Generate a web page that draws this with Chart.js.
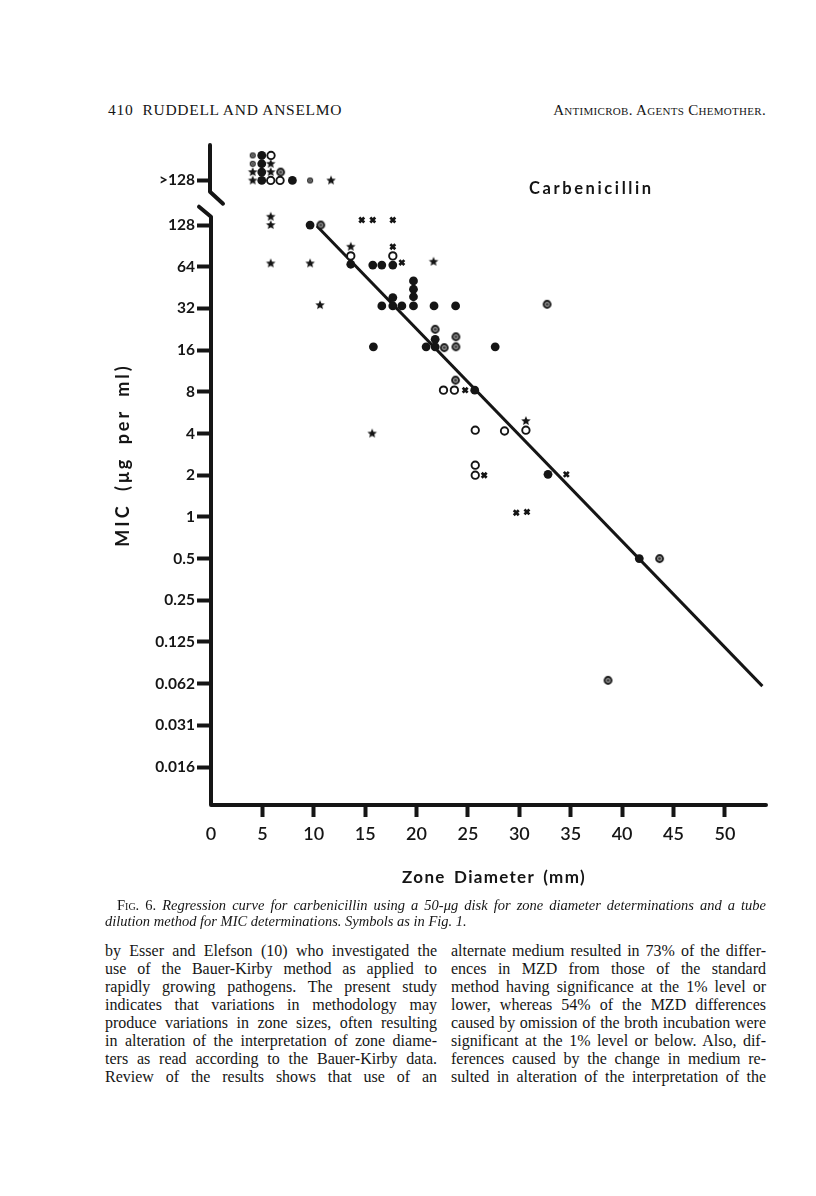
<!DOCTYPE html>
<html lang="en">
<head>
<meta charset="UTF-8">
<title>Fig. 6 - Carbenicillin regression</title>
<script src="https://cdn.jsdelivr.net/npm/chart.js"></script>
<style>
    body {
        margin: 0;
        width: 816px;
        height: 1196px;
        background: #fff;
        position: relative;
        overflow: hidden;
        color: #151515;
        font-family: "Liberation Serif", serif;
    }
    #chartBox {
        position: absolute;
        left: 0;
        top: 0;
        width: 816px;
        height: 900px;
    }
    .abs { position: absolute; white-space: nowrap; }
    .head { top: 101px; font-size: 15.5px; line-height: 18px; letter-spacing: 0.7px; }
    .label {
        font-family: Lato, "DejaVu Sans", sans-serif;
        font-weight: bold;
    }
    .cap { left: 105px; width: 661px; font-size: 14.5px; line-height: 16px; font-style: italic; }
    .line {
        font-size: 16px;
        line-height: 18px;
        text-align: justify;
        text-align-last: justify;
        white-space: nowrap;
    }
    .sc { font-style: normal; font-variant: small-caps; }
</style>
</head>
<body>
<div class="abs head" style="left:108px;">410&nbsp;&nbsp;RUDDELL AND ANSELMO</div>
<div class="abs head" style="right:50px; font-variant: small-caps; font-size:15px; letter-spacing:0.3px;">Antimicrob. Agents Chemother.</div>

<div id="chartBox"><canvas id="fig" width="816" height="900"></canvas></div>

<div class="abs label" style="left:529px; top:179px; font-size:16.5px; line-height:18px; letter-spacing:2.6px;">Carbenicillin</div>
<div class="abs label" style="left:2px; top:445px; width:240px; height:20px; font-size:18px; line-height:20px; text-align:center; letter-spacing:3px; word-spacing:5px; transform:rotate(-90deg);">MIC (μg per ml)</div>
<div class="abs label" style="left:394px; top:867px; width:200px; font-size:17px; line-height:20px; text-align:center; letter-spacing:1.3px; word-spacing:3px;">Zone Diameter (mm)</div>

<div class="abs cap line" style="top:897px; left:117px; width:649px; font-size:14.5px; line-height:16px;"><span class="sc">Fig. 6.</span> Regression curve for carbenicillin using a 50-μg disk for zone diameter determinations and a tube</div>
<div class="abs cap" style="top:913px;">dilution method for MIC determinations. Symbols as in Fig. 1.</div>

<div id="colLeft"></div>
<div id="colRight"></div>

<script>
    // y axis: MIC on a doubling scale, stored as log2 positions; ">128" sits above the break
    const yTickValues = [-6, -5, -4, -3, -2, -1, 0, 1, 2, 3, 4, 5, 6, 7, 8.07];
    const yTickLabels = ['0.016', '0.031', '0.062', '0.125', '0.25', '0.5', '1', '2', '4', '8', '16', '32', '64', '128', '>128'];
    const xTickValues = [0, 5, 10, 15, 20, 25, 30, 35, 40, 45, 50];

    // each point: zone diameter (mm), MIC, and stack lift (how many symbol heights it is raised above its MIC line)
    const filledZone = [4.94, 7.92, 4.94, 4.94, 4.94, 9.64, 13.6, 15.74, 16.62, 17.69, 16.62, 17.69, 17.69, 18.57, 19.7, 19.7, 19.7, 19.7, 21.7, 23.8, 15.8, 20.93, 21.81, 21.81, 27.65, 25.66, 32.79, 41.67];
    const filledMic = ['>128', '>128', '>128', '>128', '>128', '128', '64', '64', '64', '64', '32', '32', '32', '32', '32', '32', '32', '32', '32', '32', '16', '16', '16', '16', '16', '8', '2', '0.5'];
    const filledLift = [0, 0, 1, 2, 3, 0, 0.3, 0.2, 0.2, 0.2, 0.3, 0.3, 1.3, 0.3, 0.3, 1.4, 2.3, 3.3, 0.3, 0.3, 0.4, 0.4, 0.4, 1.3, 0.4, 0.2, 0.1, 0];

    const openZone = [5.81, 6.72, 5.84, 13.6, 17.69, 22.62, 23.68, 25.71, 28.56, 30.64, 25.71, 25.71];
    const openMic = ['>128', '>128', '>128', '64', '64', '8', '8', '4', '4', '4', '2', '2'];
    const openLift = [0, 0, 3, 1.3, 1.3, 0.2, 0.2, 0.4, 0.3, 0.4, 0, 1.2];

    const starZone = [4.06, 11.68, 4.06, 5.81, 5.81, 5.81, 5.81, 5.81, 9.64, 13.6, 21.65, 10.61, 15.68, 30.64];
    const starMic = ['>128', '>128', '>128', '>128', '>128', '128', '128', '64', '64', '64', '64', '32', '4', '4'];
    const starLift = [0, 0, 1, 1, 2, 0, 1, 0.4, 0.4, 2.4, 0.6, 0.4, 0, 1.5];

    const crossZone = [14.67, 15.74, 17.69, 17.69, 18.57, 24.73, 26.58, 34.57, 29.7, 30.74];
    const crossMic = ['128', '128', '128', '64', '64', '8', '2', '2', '1', '1'];
    const crossLift = [0.6, 0.6, 0.6, 2.4, 0.5, 0.2, 0, 0.1, 0.5, 0.6];

    const targetZone = [6.78, 10.68, 32.7, 21.81, 22.69, 23.83, 23.83, 23.79, 43.65, 38.63];
    const targetMic = ['>128', '128', '32', '16', '16', '16', '16', '8', '0.5', '0.062'];
    const targetLift = [1, 0, 0.5, 2.5, 0.3, 0.4, 1.6, 1.4, 0, 0.4];

    const smallZone = [4.06, 4.06, 9.64];
    const smallMic = ['>128', '>128', '>128'];
    const smallLift = [2, 3, 0];

    // regression line end points
    const lineZone = [10.3, 53.65];
    const lineMic = [126, 0.06];

    const LIFT = 0.2; // log2 units per stacked symbol

    function micPos(label) {
        return yTickValues[yTickLabels.indexOf(label)];
    }

    function toPoints(zones, mics, lifts) {
        return zones.map((z, i) => ({ x: z, y: micPos(mics[i]) + lifts[i] * LIFT }));
    }

    function starImage(r) {
        const c = document.createElement('canvas');
        const s = Math.ceil(r * 2 + 2);
        c.width = c.height = s;
        const g = c.getContext('2d');
        g.fillStyle = '#151515';
        g.beginPath();
        for (let i = 0; i < 10; i++) {
            const rad = i % 2 ? r * 0.45 : r;
            const a = -Math.PI / 2 + i * Math.PI / 5;
            g.lineTo(s / 2 + rad * Math.cos(a), s / 2 + rad * Math.sin(a));
        }
        g.closePath();
        g.fill();
        return c;
    }

    function targetImage(r, fill, ring) {
        const c = document.createElement('canvas');
        const s = Math.ceil(r * 2 + 2);
        c.width = c.height = s;
        const g = c.getContext('2d');
        g.beginPath();
        g.arc(s / 2, s / 2, r - ring / 2, 0, Math.PI * 2);
        g.fillStyle = fill;
        g.fill();
        g.lineWidth = ring;
        g.strokeStyle = '#1a1a1a';
        g.stroke();
        g.beginPath();
        g.arc(s / 2, s / 2, r * 0.3, 0, Math.PI * 2);
        g.fillStyle = '#333';
        g.fill();
        return c;
    }

    const brokenAxis = {
        id: 'brokenAxis',
        afterDraw(chart) {
            const { ctx, chartArea: a, scales: { y } } = chart;
            const yUpper = y.getPixelForValue(7.8);
            const yLower = y.getPixelForValue(7.2);
            ctx.save();
            ctx.strokeStyle = '#151515';
            ctx.lineWidth = 4;
            ctx.lineJoin = 'round';
            ctx.lineCap = 'round';
            ctx.beginPath();
            ctx.moveTo(a.left - 1, a.top);
            ctx.lineTo(a.left - 1, yUpper);
            ctx.lineTo(a.left + 12, yUpper + 12);
            ctx.stroke();
            ctx.beginPath();
            ctx.moveTo(a.left - 12, yLower - 10);
            ctx.lineTo(a.left, yLower);
            ctx.lineTo(a.left, a.bottom);
            ctx.lineTo(a.right, a.bottom);
            ctx.stroke();
            ctx.restore();
        }
    };

    const symbolSet = (data, extra) => Object.assign({
        type: 'scatter',
        data: data,
        order: 1,
        clip: false
    }, extra);

    new Chart(document.getElementById('fig'), {
        type: 'scatter',
        data: {
            datasets: [
                {
                    type: 'line',
                    data: lineZone.map((z, i) => ({ x: z, y: Math.log2(lineMic[i]) })),
                    borderColor: '#151515',
                    borderWidth: 3,
                    pointRadius: 0,
                    fill: false,
                    order: 5
                },
                symbolSet(toPoints(filledZone, filledMic, filledLift), {
                    pointStyle: 'circle', pointRadius: 4.4, backgroundColor: '#151515', borderColor: '#151515', borderWidth: 0
                }),
                symbolSet(toPoints(openZone, openMic, openLift), {
                    pointStyle: 'circle', pointRadius: 3.7, backgroundColor: '#fff', borderColor: '#151515', borderWidth: 1.9
                }),
                symbolSet(toPoints(starZone, starMic, starLift), {
                    pointStyle: starImage(5)
                }),
                symbolSet(toPoints(crossZone, crossMic, crossLift), {
                    pointStyle: 'crossRot', pointRadius: 3.5, borderColor: '#151515', borderWidth: 2.7
                }),
                symbolSet(toPoints(targetZone, targetMic, targetLift), {
                    pointStyle: targetImage(4.4, '#9a9a9a', 1.9)
                }),
                symbolSet(toPoints(smallZone, smallMic, smallLift), {
                    pointStyle: targetImage(3, '#aaa', 1.2)
                })
            ]
        },
        options: {
            responsive: false,
            animation: false,
            devicePixelRatio: 1,
            layout: { padding: { left: 0, top: 145, right: 50, bottom: 0 } },
            plugins: { legend: { display: false }, tooltip: { enabled: false } },
            scales: {
                x: {
                    type: 'linear',
                    min: 0,
                    max: 54,
                    afterFit: s => { s.height = 95; },
                    afterBuildTicks: s => { s.ticks = xTickValues.map(v => ({ value: v })); },
                    border: { display: false },
                    grid: {
                        drawOnChartArea: false,
                        drawTicks: true,
                        tickLength: 12,
                        tickWidth: 4,
                        tickColor: c => (c.tick && c.tick.value === 0 ? 'rgba(0,0,0,0)' : '#151515')
                    },
                    ticks: {
                        padding: 6,
                        color: '#151515',
                        maxRotation: 0,
                        font: { family: 'Lato', size: 18, weight: '600' },
                        callback: v => String(v)
                    }
                },
                y: {
                    type: 'linear',
                    min: -6.91,
                    max: 8.92,
                    afterFit: s => { s.width = 211; },
                    afterBuildTicks: s => { s.ticks = yTickValues.map(v => ({ value: v })); },
                    border: { display: false },
                    grid: {
                        drawOnChartArea: false,
                        drawTicks: true,
                        tickLength: 14,
                        tickWidth: 4,
                        tickColor: '#151515'
                    },
                    ticks: {
                        padding: 2,
                        color: '#151515',
                        font: { family: 'Lato', size: 15.5, weight: 'bold' },
                        callback: (v, i) => yTickLabels[i]
                    }
                }
            }
        },
        plugins: [brokenAxis]
    });

    // body text, set line by line as in the printed page
    const leftLines = [
        'by Esser and Elefson (10) who investigated the',
        'use of the Bauer-Kirby method as applied to',
        'rapidly growing pathogens. The present study',
        'indicates that variations in methodology may',
        'produce variations in zone sizes, often resulting',
        'in alteration of the interpretation of zone diame-',
        'ters as read according to the Bauer-Kirby data.',
        'Review of the results shows that use of an'
    ];
    const rightLines = [
        'alternate medium resulted in 73% of the differ-',
        'ences in MZD from those of the standard',
        'method having significance at the 1% level or',
        'lower, whereas 54% of the MZD differences',
        'caused by omission of the broth incubation were',
        'significant at the 1% level or below. Also, dif-',
        'ferences caused by the change in medium re-',
        'sulted in alteration of the interpretation of the'
    ];

    function setColumn(id, lines, left, width) {
        const box = document.getElementById(id);
        lines.forEach((t, i) => {
            const d = document.createElement('div');
            d.className = 'abs line';
            d.style.left = left + 'px';
            d.style.width = width + 'px';
            d.style.top = (942 + i * 18) + 'px';
            d.textContent = t;
            box.appendChild(d);
        });
    }
    setColumn('colLeft', leftLines, 105, 332);
    setColumn('colRight', rightLines, 451, 315);
</script>
</body>
</html>
